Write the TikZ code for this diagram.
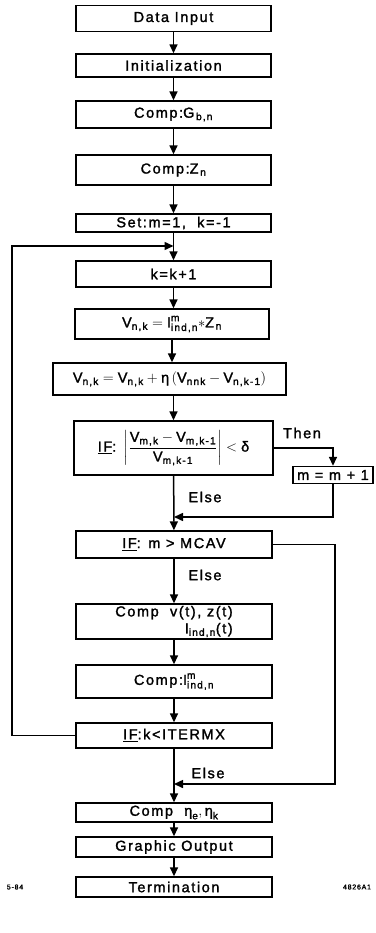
\documentclass[tikz,border=0pt]{standalone}
\usepackage{amsmath}
\usepackage{fontspec}
\setmainfont{Liberation Sans}[LetterSpace=11, FakeBold=1.6]
\usetikzlibrary{arrows.meta}
\newcommand{\tx}[1]{\text{#1}}
\tikzset{
  box/.style={draw, line width=1.4pt, minimum width=195pt, inner sep=1pt,
    font=\fontsize{14.5}{17}\selectfont},
  conn/.style={line width=1.5pt},
  arr/.style={conn, -{Triangle[length=9pt,width=8pt]}},
  lbl/.style={font=\fontsize{14.5}{17}\selectfont, inner sep=0pt},
  tag/.style={font=\fontsize{7}{8}\selectfont, inner sep=0pt}
}
\begin{document}
\begin{tikzpicture}[x=1pt,y=-1pt]
\fill[white] (0,0) rectangle (375,933);
\useasboundingbox (0,0) rectangle (375,933);

\node[box, minimum height=26pt] (da) at (173.5,18.5) {Data Input};
\node[box, minimum height=23pt] (init) at (173.5,65.5) {Initialization};
\node[box, minimum height=27pt] (gbn) at (173.5,114.5) {Comp:$\tx{G}_{\,\tx{b,n}}$};
\node[box, minimum height=30pt] (zn) at (173.5,170) {Comp:$\tx{Z}_{\,\tx{n}}$};
\node[box, minimum height=18pt] (set) at (173.5,223) {Set:m=1,\ \ k=-1};
\node[box, minimum height=26pt] (kk) at (173.5,274) {k=k+1};
\node[box, minimum height=30pt, minimum width=194pt] (vnk1) at (172,324)
  {$\tx{V}_{\tx{n,k}} = \tx{I}^{\tx{m}}_{\tx{ind,n}}{*}\tx{Z}_{\,\tx{n}}$};
\node[box, minimum height=32pt, minimum width=233pt] (vnk2) at (169.5,379)
  {$\tx{V}_{\tx{n,k}} = \tx{V}_{\tx{n,k}} + \tx{η}\,(\tx{V}_{\tx{nnk}} - \tx{V}_{\tx{n,k-1}})$};
\node[box, minimum height=54pt, minimum width=199pt] (if1) at (173.5,448)
  {\underline{IF}: $\left|\dfrac{\tx{V}_{\tx{m,k}}-\tx{V}_{\tx{m,k-1}}}{\tx{V}_{\tx{m,k-1}}}\right| < \tx{δ}$};
\node[box, minimum height=17pt, minimum width=80pt] (mm) at (333,475) {m = m + 1};
\node[box, minimum height=27pt, minimum width=196pt] (if2) at (174,544.5) {\underline{IF}: m > MCAV};
\node[box, minimum height=35pt, minimum width=196pt, align=right] (comp) at (174,621.5)
  {Comp\ \ v(t), z(t)\\$\tx{I}_{\tx{ind,n}}$(t)};
\node[box, minimum height=33pt, minimum width=196pt] (compI) at (174,681.5) {Comp:$\tx{I}^{\tx{m}}_{\tx{ind,n}}$};
\node[box, minimum height=25pt, minimum width=196pt] (if3) at (174,735.5) {\underline{IF}:k<ITERMX};
\node[box, minimum height=19pt, minimum width=196pt] (eta) at (174,812.5) {Comp\ \ $\tx{η}_{\tx{e}},\tx{η}_{\tx{k}}$};
\node[box, minimum height=20pt, minimum width=196pt] (go) at (174,847) {Graphic Output};
\node[box, minimum height=20pt, minimum width=196pt] (term) at (174,887) {Termination};

\coordinate (lp) at (12,246);
\coordinate (lpe) at (173.5,246);
\coordinate (j1) at (174,517);
\coordinate (j2) at (174,784);
\coordinate (r1) at (335,517);
\coordinate (r2) at (335,784);

\draw[arr] (da) -- (init);
\draw[arr] (init) -- (gbn);
\draw[arr] (gbn) -- (zn);
\draw[arr] (zn) -- (set);
\draw[arr] (set.south) -- (kk.north);
\draw[arr] (kk) -- (vnk1.north -| kk.south);
\draw[arr] (vnk1) -- (vnk1.south |- vnk2.north);
\draw[arr] (vnk2.south -| if1.north) -- (if1);
\draw[arr] (if1) -- (if2);
\draw[arr] (if2) -- (comp);
\draw[arr] (comp) -- (compI);
\draw[arr] (compI) -- (if3);
\draw[arr] (if3) -- (eta);
\draw[arr] (eta) -- (go);
\draw[arr] (go) -- (term);

\draw[arr] (if3.west) -| (lp) -- (lpe);
\draw[arr] (if1.east) -| (mm.north);
\draw[arr] (mm.south) -- (mm.south |- r1) -- (j1);
\draw[arr] (if2.east) -| (r2) -- (j2);

\node[lbl] (then) at (302,433) {Then};
\node[lbl] (else1) at (205,497) {Else};
\node[lbl] (else2) at (205,575) {Else};
\node[lbl] (else3) at (208,773) {Else};
\node[tag] (t1) at (15,887) {5-84};
\node[tag] (t2) at (357,887) {4826A1};
\end{tikzpicture}
\end{document}
